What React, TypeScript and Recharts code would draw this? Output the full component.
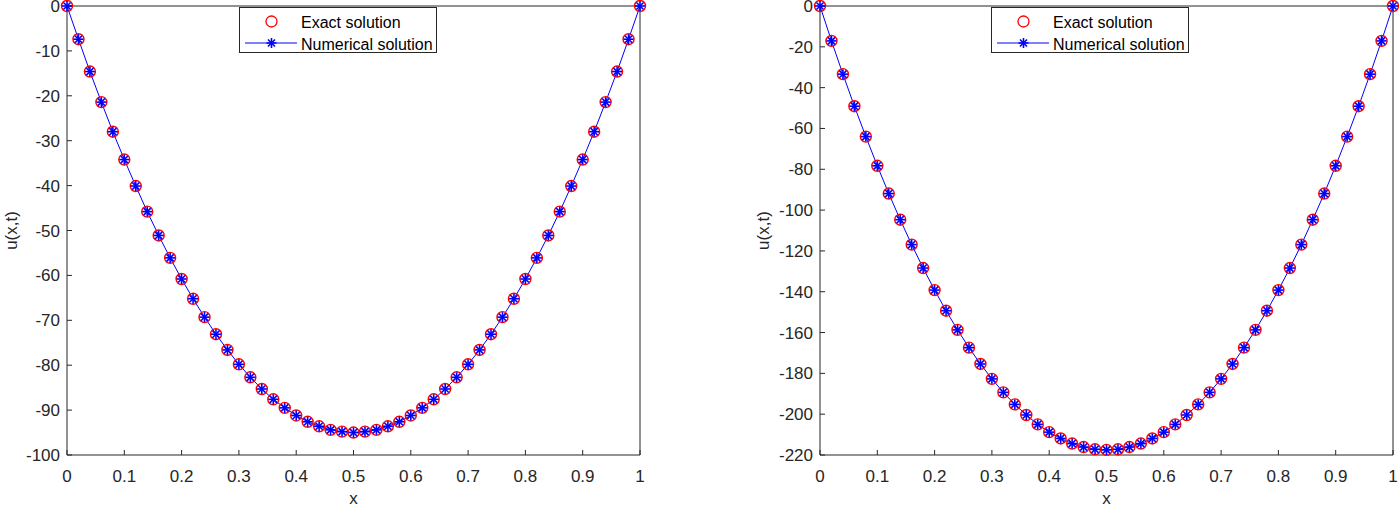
import { ComposedChart, Legend, Line, XAxis, YAxis } from "recharts";

const FONT = '"Liberation Sans", Arial, Helvetica, sans-serif';
const AXIS = "#262626";
const RED = "#ff0000";
const BLUE = "#0000ff";

const xs = [
  0, 0.02, 0.04, 0.06, 0.08, 0.1, 0.12, 0.14, 0.16, 0.18, 0.2, 0.22, 0.24, 0.26, 0.28, 0.3, 0.32,
  0.34, 0.36, 0.38, 0.4, 0.42, 0.44, 0.46, 0.48, 0.5, 0.52, 0.54, 0.56, 0.58, 0.6, 0.62, 0.64, 0.66,
  0.68, 0.7, 0.72, 0.74, 0.76, 0.78, 0.8, 0.82, 0.84, 0.86, 0.88, 0.9, 0.92, 0.94, 0.96, 0.98, 1,
];
const xTicks = [0, 0.1, 0.2, 0.3, 0.4, 0.5, 0.6, 0.7, 0.8, 0.9, 1];

// left panel
const leftExact = [
  0, -7.4, -14.6, -21.4, -28.0, -34.2, -40.1, -45.8, -51.1, -56.1, -60.8, -65.2, -69.3, -73.1,
  -76.6, -79.8, -82.7, -85.3, -87.6, -89.5, -91.2, -92.6, -93.6, -94.4, -94.8, -95.0, -94.8, -94.4,
  -93.6, -92.6, -91.2, -89.5, -87.6, -85.3, -82.7, -79.8, -76.6, -73.1, -69.3, -65.2, -60.8, -56.1,
  -51.1, -45.8, -40.1, -34.2, -28.0, -21.4, -14.6, -7.4, 0,
];
// numerical markers sit exactly on the exact ones in the picture
const leftNumerical = leftExact;
const leftYTicks = [-100, -90, -80, -70, -60, -50, -40, -30, -20, -10, 0];

// right panel
const rightExact = [
  0, -17.1, -33.4, -49.1, -64.0, -78.3, -91.9, -104.7, -116.9, -128.4, -139.2, -149.3, -158.7,
  -167.4, -175.4, -182.7, -189.3, -195.2, -200.4, -205.0, -208.8, -211.9, -214.4, -216.1, -217.2,
  -217.5, -217.2, -216.1, -214.4, -211.9, -208.8, -205.0, -200.4, -195.2, -189.3, -182.7, -175.4,
  -167.4, -158.7, -149.3, -139.2, -128.4, -116.9, -104.7, -91.9, -78.3, -64.0, -49.1, -33.4, -17.1,
  0,
];
const rightNumerical = rightExact;
const rightYTicks = [-220, -200, -180, -160, -140, -120, -100, -80, -60, -40, -20, 0];

function Asterisk({ cx, cy, r = 5 }: { cx: number; cy: number; r?: number }) {
  const d = r * 0.707;
  return (
    <g stroke={BLUE} strokeWidth={1.6}>
      <line x1={cx - r} y1={cy} x2={cx + r} y2={cy} />
      <line x1={cx} y1={cy - r} x2={cx} y2={cy + r} />
      <line x1={cx - d} y1={cy - d} x2={cx + d} y2={cy + d} />
      <line x1={cx - d} y1={cy + d} x2={cx + d} y2={cy - d} />
    </g>
  );
}

function LegendBox() {
  return (
    <svg width={198} height={46} style={{ display: "block" }}>
      <rect x={0.5} y={0.5} width={197} height={45} fill="#fff" stroke={AXIS} />
      <circle cx={32.5} cy={14.5} r={5.5} fill="none" stroke={RED} strokeWidth={1.3} />
      <line x1={6} x2={58} y1={36} y2={36} stroke={BLUE} />
      <Asterisk cx={32.5} cy={36} />
      <text x={62} y={21} fontSize={16} fontFamily={FONT} fill="#000">
        Exact solution
      </text>
      <text x={62} y={42.5} fontSize={16} fontFamily={FONT} fill="#000">
        Numerical solution
      </text>
    </svg>
  );
}

type PanelProps = {
  width: number;
  exact: number[];
  numerical: number[];
  yTicks: number[];
  yMin: number;
  yAxisWidth: number;
  labelOffset: number;
  marginRight: number;
  legendLeft: number;
};

function Panel(p: PanelProps) {
  const data = xs.map((x, i) => ({ x, exact: p.exact[i], numerical: p.numerical[i] }));
  const tickStyle = { fill: AXIS, fontSize: 17, fontFamily: FONT };
  return (
    <ComposedChart
      width={p.width}
      height={507}
      data={data}
      margin={{ top: 5, right: p.marginRight, bottom: 0, left: 0 }}
    >
      <XAxis
        dataKey="x"
        type="number"
        domain={[0, 1]}
        ticks={xTicks}
        interval={0}
        tickSize={-5}
        tickMargin={20}
        height={52}
        axisLine={{ stroke: AXIS }}
        tickLine={{ stroke: AXIS }}
        tick={tickStyle}
        label={{ value: "x", position: "insideBottom", offset: 3, ...tickStyle }}
      />
      <XAxis
        xAxisId="top"
        orientation="top"
        type="number"
        domain={[0, 1]}
        ticks={xTicks}
        interval={0}
        tick={false}
        tickSize={-5}
        height={1}
        axisLine={{ stroke: AXIS }}
        tickLine={{ stroke: AXIS }}
      />
      <YAxis
        type="number"
        domain={[p.yMin, 0]}
        ticks={p.yTicks}
        interval={0}
        tickSize={-5}
        tickMargin={12}
        width={p.yAxisWidth}
        axisLine={{ stroke: AXIS }}
        tickLine={{ stroke: AXIS }}
        tick={tickStyle}
        label={{
          value: "u(x,t)",
          angle: -90,
          position: "insideLeft",
          offset: p.labelOffset,
          style: { textAnchor: "middle" },
          ...tickStyle,
        }}
      />
      <YAxis
        yAxisId="right"
        orientation="right"
        type="number"
        domain={[p.yMin, 0]}
        ticks={p.yTicks}
        interval={0}
        tick={false}
        tickSize={-5}
        width={1}
        axisLine={{ stroke: AXIS }}
        tickLine={{ stroke: AXIS }}
      />
      <Line
        dataKey="exact"
        stroke="none"
        isAnimationActive={false}
        activeDot={false}
        dot={(d: any) => (
          <circle
            key={`e${d.index}`}
            cx={d.cx}
            cy={d.cy}
            r={5.5}
            fill="none"
            stroke={RED}
            strokeWidth={1.4}
          />
        )}
      />
      <Line
        dataKey="numerical"
        stroke={BLUE}
        strokeWidth={1}
        isAnimationActive={false}
        activeDot={false}
        dot={(d: any) => <Asterisk key={`n${d.index}`} cx={d.cx} cy={d.cy} />}
      />
      <Legend
        layout="vertical"
        align="center"
        verticalAlign="middle"
        wrapperStyle={{ left: p.legendLeft, top: 7, width: 198, height: 46 }}
        content={() => <LegendBox />}
      />
    </ComposedChart>
  );
}

export default function App() {
  return (
    <div
      style={{
        position: "absolute",
        left: 0,
        top: 0,
        width: 1399,
        height: 507,
        display: "flex",
        background: "#fff",
      }}
    >
      <Panel
        width={700}
        exact={leftExact}
        numerical={leftNumerical}
        yTicks={leftYTicks}
        yMin={-100}
        yAxisWidth={67}
        labelOffset={10.5}
        marginRight={59}
        legendLeft={239}
      />
      <Panel
        width={699}
        exact={rightExact}
        numerical={rightNumerical}
        yTicks={rightYTicks}
        yMin={-220}
        yAxisWidth={120}
        labelOffset={62.5}
        marginRight={5}
        legendLeft={291}
      />
    </div>
  );
}
